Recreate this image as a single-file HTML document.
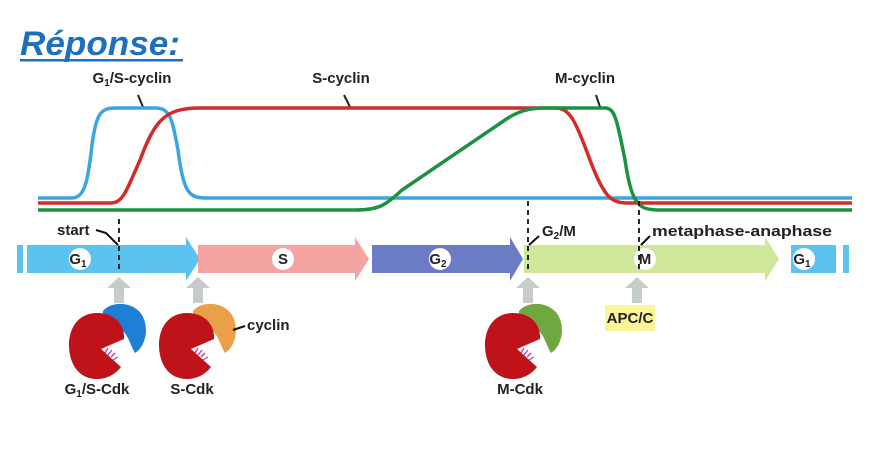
<!DOCTYPE html>
<html><head><meta charset="utf-8"><style>
html,body{margin:0;padding:0;background:#fff;}
svg{display:block}
text{font-family:"Liberation Sans",sans-serif;}
</style></head><body>
<svg width="886" height="460" viewBox="0 0 886 460" xmlns="http://www.w3.org/2000/svg">
<defs>
<g id="cdk">
 <path d="M0,-32 C20,-32 28,-18 27,-6 L4,4 L24,22 C18,30 9,34 0,34 C-19,34 -28,18 -28,0 C-28,-18 -18,-32 0,-32 Z" fill="#c0121a"/>
 <g stroke="#c03a9a" stroke-width="1.3">
  <line x1="8" y1="8" x2="11" y2="3"/><line x1="11" y1="10" x2="15" y2="5"/><line x1="14" y1="12" x2="18" y2="8"/><line x1="16" y1="15" x2="21" y2="12"/>
 </g>
</g>
<path id="cyc" d="M6,-34 C14,-44 36,-44 45,-30 C53,-16 48,2 38,8 C34,2 32,-8 26,-14 C20,-20 12,-22 6,-26 Z"/>
</defs>
<text x="20" y="55" font-size="34" font-weight="bold" font-style="italic" fill="#1f6fbf" textLength="160" lengthAdjust="spacingAndGlyphs">Réponse:</text>
<rect x="20" y="59" width="163" height="2.5" fill="#1f6fbf"/>

<text x="132" y="83" font-size="15" font-weight="bold" text-anchor="middle" fill="#222">G<tspan font-size="10" dy="3">1</tspan><tspan dy="-3">/S-cyclin</tspan></text>
<line x1="138" y1="95" x2="143" y2="107" stroke="#222" stroke-width="2"/>
<text x="341" y="83" font-size="15" font-weight="bold" text-anchor="middle" fill="#222">S-cyclin</text>
<line x1="344" y1="95" x2="350" y2="107" stroke="#222" stroke-width="2"/>
<text x="585" y="83" font-size="15" font-weight="bold" text-anchor="middle" fill="#222">M-cyclin</text>
<line x1="596" y1="95" x2="600" y2="107" stroke="#222" stroke-width="2"/>

<path d="M38,198 L72,198 C85,198 88,180 92,145 C96,115 100,108 115,108 L155,108 C170,108 172,118 178,150 C183,190 188,198 205,198 L852,198" fill="none" stroke="#3aa6e0" stroke-width="3.5"/>
<path d="M38,203 L110,203 C122,203 125,195 140,160 C155,120 165,108 200,108 L555,108 C570,108 575,120 590,160 C605,200 612,203 630,203 L852,203" fill="none" stroke="#d32a2a" stroke-width="3.5"/>
<path d="M38,210 L355,210 C378,210 385,206 402,190 L505,120 C518,111 530,108 545,108 L605,108 C615,108 617,120 625,160 C632,205 638,210 660,210 L852,210" fill="none" stroke="#1c9140" stroke-width="3.5"/>

<rect x="17" y="245" width="6" height="28" fill="#5bc3f0"/>
<polygon points="27,245 186,245 186,237 200,259 186,281 186,273 27,273" fill="#5bc3f0"/>
<polygon points="198,245 355,245 355,237 369,259 355,281 355,273 198,273 198,245" fill="#f5a3a3"/>
<polygon points="372,245 510,245 510,237 523,259 510,281 510,273 372,273" fill="#6b7cc4"/>
<polygon points="524,245 765,245 765,237 779,259 765,281 765,273 524,273" fill="#cfe79a"/>
<rect x="791" y="245" width="45" height="28" fill="#5bc3f0"/>
<rect x="843" y="245" width="6" height="28" fill="#5bc3f0"/>

<g font-size="15" font-weight="bold" fill="#222" text-anchor="middle">
<circle cx="80" cy="259" r="11" fill="#fff"/><text x="78" y="264">G<tspan font-size="10" dy="3">1</tspan></text>
<circle cx="283" cy="259" r="11" fill="#fff"/><text x="283" y="264">S</text>
<circle cx="440" cy="259" r="11" fill="#fff"/><text x="438" y="264">G<tspan font-size="10" dy="3">2</tspan></text>
<circle cx="645" cy="259" r="11" fill="#fff"/><text x="645" y="264">M</text>
<circle cx="804" cy="259" r="11" fill="#fff"/><text x="802" y="264">G<tspan font-size="10" dy="3">1</tspan></text>
</g>

<g stroke="#111" stroke-width="1.8" stroke-dasharray="5,4">
<line x1="119" y1="219" x2="119" y2="273"/>
<line x1="528" y1="201" x2="528" y2="273"/>
<line x1="639" y1="201" x2="639" y2="273"/>
</g>
<text x="57" y="235" font-size="15" font-weight="bold" fill="#222">start</text>
<polyline points="96,230 106,233 118,245" fill="none" stroke="#111" stroke-width="2"/>
<text x="542" y="236" font-size="15" font-weight="bold" fill="#222">G<tspan font-size="10" dy="3">2</tspan><tspan dy="-3">/M</tspan></text>
<line x1="539" y1="236" x2="529" y2="245" stroke="#111" stroke-width="2"/>
<text x="652" y="236" font-size="15" font-weight="bold" fill="#222" textLength="180" lengthAdjust="spacingAndGlyphs">metaphase-anaphase</text>
<line x1="650" y1="236" x2="641" y2="245" stroke="#111" stroke-width="2"/>

<g fill="#c5ccc9">
<polygon points="119,277 131,288 124,288 124,303 114,303 114,288 107,288"/>
<polygon points="198,277 210,288 203,288 203,303 193,303 193,288 186,288"/>
<polygon points="528,277 540,288 533,288 533,303 523,303 523,288 516,288"/>
<polygon points="637,277 649,288 642,288 642,303 632,303 632,288 625,288"/>
</g>

<g transform="translate(97,345)"><use href="#cyc" fill="#1e7fd6"/><use href="#cdk"/></g>
<g transform="translate(187,345)"><use href="#cyc" fill="#eaa048"/><use href="#cdk"/></g>
<g transform="translate(513,345)"><use href="#cyc" fill="#6ea83e"/><use href="#cdk"/></g>
<line x1="233" y1="330" x2="245" y2="326" stroke="#111" stroke-width="2"/>
<text x="247" y="330" font-size="15" font-weight="bold" fill="#222">cyclin</text>

<rect x="605" y="305" width="50" height="26" fill="#fbf59a"/>
<text x="630" y="323" font-size="15" font-weight="bold" fill="#222" text-anchor="middle">APC/C</text>

<g font-size="15" font-weight="bold" fill="#222" text-anchor="middle">
<text x="97" y="394">G<tspan font-size="10" dy="3">1</tspan><tspan dy="-3">/S-Cdk</tspan></text>
<text x="192" y="394">S-Cdk</text>
<text x="520" y="394">M-Cdk</text>
</g>
</svg>
</body></html>
